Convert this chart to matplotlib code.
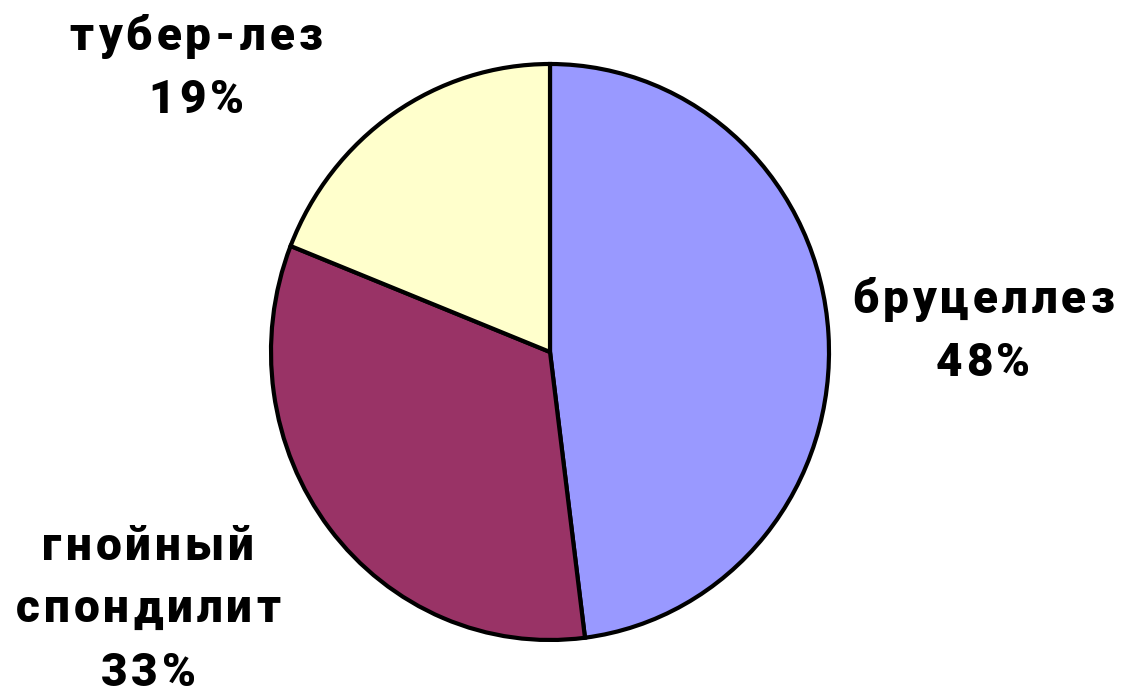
import matplotlib.pyplot as plt
from matplotlib.font_manager import FontProperties

labels = ["бруцеллез", "гнойный\nспондилит", "тубер-лез"]
shares = [48, 33, 19]
colors = ["#9999FF", "#993366", "#FFFFCC"]
# label centre points in figure pixels (from top-left)
label_xy = [(983, 327), (148, 605), (196, 64)]

W, H = 1128, 695
fig = plt.figure(figsize=(W / 100, H / 100), dpi=100)
fig.patch.set_facecolor("white")

cx, cy, rx, ry = 550, 352, 279, 288
ax = fig.add_axes([(cx - rx) / W, (H - cy - ry) / H, 2 * rx / W, 2 * ry / H])
ax.pie(shares, colors=colors, startangle=90, counterclock=False,
       wedgeprops=dict(edgecolor="black", linewidth=3))
ax.set_aspect("auto")
ax.set_xlim(-1, 1)
ax.set_ylim(-1, 1)
ax.axis("off")

prop = FontProperties(family="Roboto", weight=900, size=33)
renderer = fig.canvas.get_renderer()
tracking = 4      # extra px between letters
line_step = 63    # px between baselines


def char_w(ch):
    w, _, _ = renderer.get_text_width_height_descent(ch, prop, ismath=False)
    return w


def spaced_line(text, xc, yc):
    widths = [char_w(ch) for ch in text]
    total = sum(widths) + tracking * (len(text) - 1)
    x = xc - total / 2
    for ch, w in zip(text, widths):
        fig.text(x / W, 1 - yc / H, ch, ha="left", va="center_baseline",
                 fontproperties=prop, color="black")
        x += w + tracking


for lab, val, (x, y) in zip(labels, shares, label_xy):
    lines = lab.split("\n") + [f"{val}%"]
    top = y - line_step * (len(lines) - 1) / 2
    for i, line in enumerate(lines):
        spaced_line(line, x, top + i * line_step)

fig.savefig("out.png", dpi=100)
